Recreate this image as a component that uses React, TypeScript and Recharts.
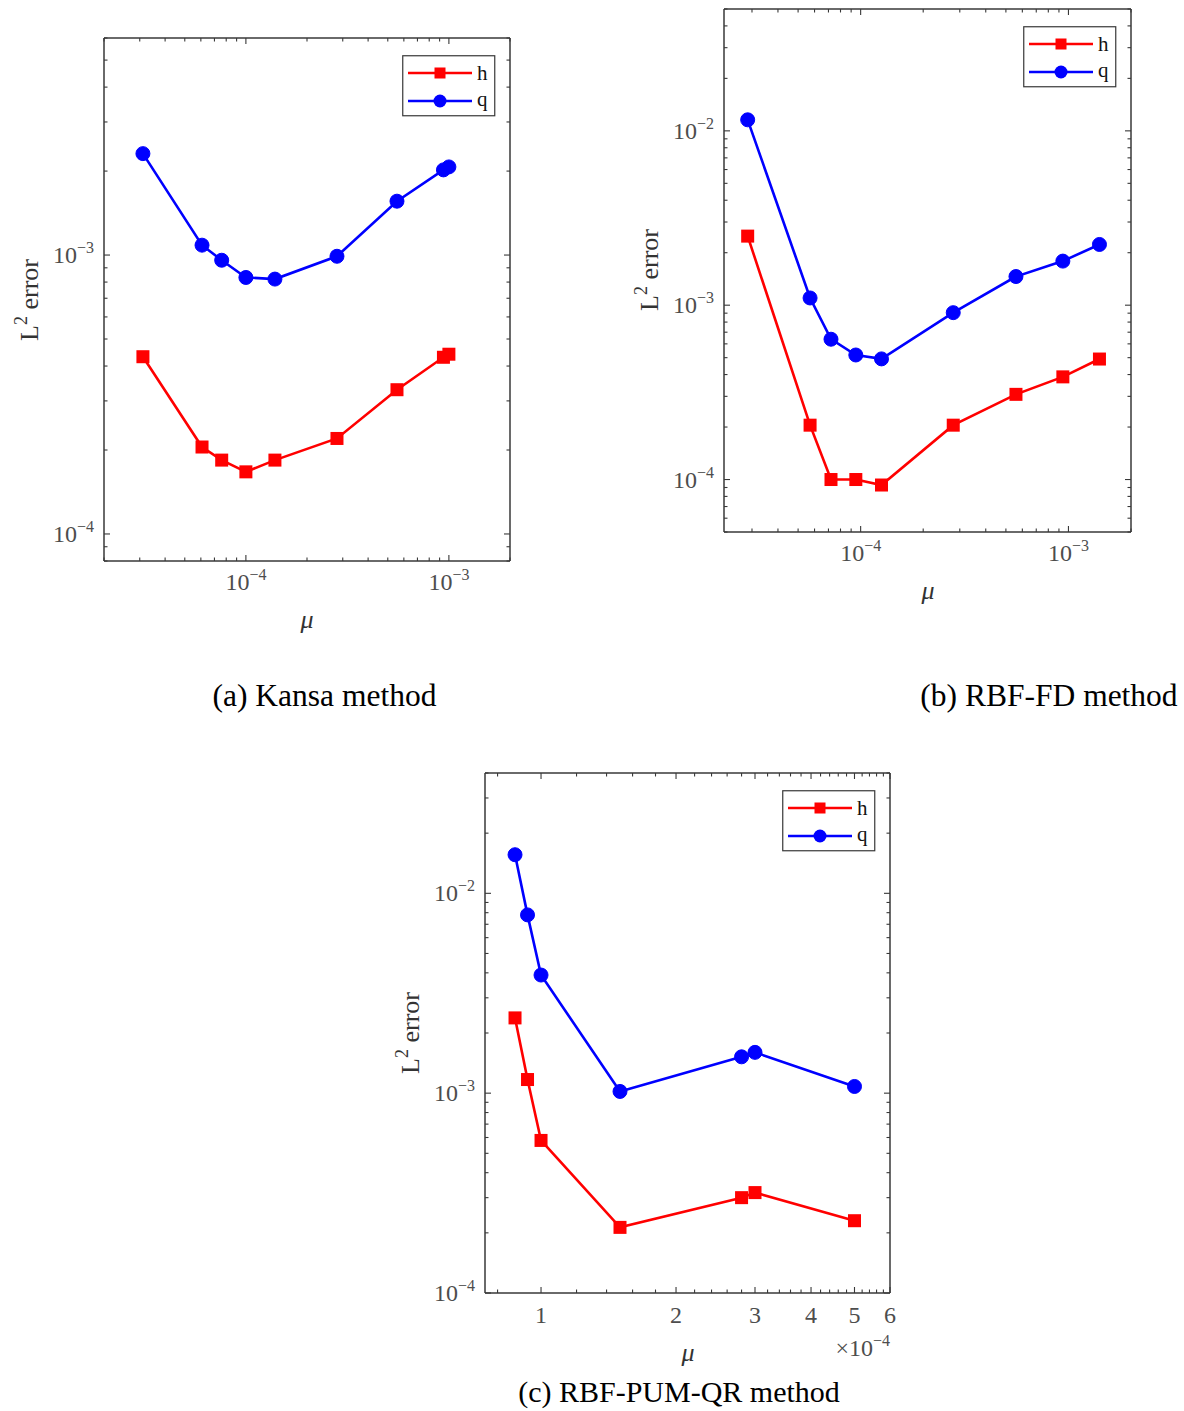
import React from 'react';
import { LineChart, Line, XAxis, YAxis, Legend } from 'recharts';

const AXIS = '#383838';
const TICK_TEXT = '#4d4d4d';
const RED = '#ff0000';
const BLUE = '#0000ff';
const SERIF = '"Liberation Serif", "Times New Roman", serif';

// (a) Kansa method
const kansaMu = [3.11e-5, 6.08e-5, 7.6e-5, 1.0e-4, 1.39e-4, 2.81e-4, 5.55e-4, 9.4e-4, 1.0e-3];
const kansaH = [4.32e-4, 2.05e-4, 1.84e-4, 1.67e-4, 1.84e-4, 2.2e-4, 3.29e-4, 4.3e-4, 4.41e-4];
const kansaQ = [2.31e-3, 1.085e-3, 9.58e-4, 8.31e-4, 8.2e-4, 9.9e-4, 1.56e-3, 2.02e-3, 2.07e-3];

// (b) RBF-FD method
const fdMu = [2.86e-5, 5.71e-5, 7.2e-5, 9.48e-5, 1.26e-4, 2.79e-4, 5.59e-4, 9.4e-4, 1.41e-3];
const fdH = [2.49e-3, 2.05e-4, 1.0e-4, 1.0e-4, 9.3e-5, 2.05e-4, 3.08e-4, 3.88e-4, 4.91e-4];
const fdQ = [1.157e-2, 1.1e-3, 6.38e-4, 5.18e-4, 4.92e-4, 9.06e-4, 1.46e-3, 1.79e-3, 2.23e-3];

// (c) RBF-PUM-QR method, mu in units of 1e-4
const pumMu = [0.875, 0.933, 1.0, 1.5, 2.8, 3.0, 5.0];
const pumH = [2.38e-3, 1.17e-3, 5.8e-4, 2.13e-4, 3.0e-4, 3.18e-4, 2.3e-4];
const pumQ = [1.56e-2, 7.8e-3, 3.9e-3, 1.02e-3, 1.52e-3, 1.6e-3, 1.08e-3];

const pumXLabels = [1, 2, 3, 4, 5, 6];

const captions = ['(a) Kansa method', '(b) RBF-FD method', '(c) RBF-PUM-QR method'];

type Row = { mu: number; h: number; q: number };
const toRows = (mu: number[], h: number[], q: number[]): Row[] =>
  mu.map((m, i) => ({ mu: m, h: h[i], q: q[i] }));

// 1..9 x 10^k ticks inside [lo, hi]
function logTicks(lo: number, hi: number) {
  const out: number[] = [];
  for (let e = Math.floor(Math.log10(lo)); e <= Math.ceil(Math.log10(hi)); e++) {
    for (let m = 1; m <= 9; m++) {
      const v = Number(`${m}e${e}`);
      if (v >= lo * 0.9999 && v <= hi * 1.0001) out.push(v);
    }
  }
  return out;
}

const isDecade = (v: number) => {
  const l = Math.log10(v);
  return Math.abs(l - Math.round(l)) < 1e-6;
};
const isInteger = (v: number) => pumXLabels.some(t => Math.abs(t - v) < 1e-6);

type Side = 'bottom' | 'top' | 'left' | 'right';
type LabelFn = (v: number, x: number, y: number) => React.ReactNode;

function makeTick(side: Side, isMajor: (v: number) => boolean, label?: LabelFn) {
  return (props: any) => {
    const { x, y, payload } = props;
    const v = Number(payload.value);
    const major = isMajor(v);
    const len = major ? 6 : 3.5;
    const dx = side === 'left' ? len : side === 'right' ? -len : 0;
    const dy = side === 'bottom' ? -len : side === 'top' ? len : 0;
    return (
      <g>
        <line x1={x} y1={y} x2={x + dx} y2={y + dy} stroke={AXIS} strokeWidth={1.1} />
        {major && label ? label(v, x, y) : null}
      </g>
    );
  };
}

const expOf = (v: number) => '\u2212' + Math.abs(Math.round(Math.log10(v)));

const powBottom: LabelFn = (v, x, y) => (
  <text x={x} y={y + 29} textAnchor="middle" fontFamily={SERIF} fontSize={24} fill={TICK_TEXT}>
    10<tspan dy={-10} fontSize={16}>{expOf(v)}</tspan>
  </text>
);

const powLeft: LabelFn = (v, x, y) => (
  <text x={x - 10} y={y + 8} textAnchor="end" fontFamily={SERIF} fontSize={24} fill={TICK_TEXT}>
    10<tspan dy={-10} fontSize={16}>{expOf(v)}</tspan>
  </text>
);

const intBottom: LabelFn = (v, x, y) => (
  <text x={x} y={y + 30} textAnchor="middle" fontFamily={SERIF} fontSize={24} fill={TICK_TEXT}>
    {Math.round(v)}
  </text>
);

const squareDot = (p: any) => (
  <rect key={`sq-${p.index}`} x={p.cx - 6.5} y={p.cy - 6.5} width={13} height={13} fill={RED} />
);

const LegendBox = () => (
  <svg width={94} height={62} style={{ display: 'block' }}>
    <rect x={0.75} y={0.75} width={92} height={60} fill="#fff" stroke={AXIS} strokeWidth={1.2} />
    <line x1={6} y1={18} x2={70} y2={18} stroke={RED} strokeWidth={2.5} />
    <rect x={32.5} y={12.5} width={11} height={11} fill={RED} />
    <text x={75} y={25} fontFamily={SERIF} fontSize={21} fill="#111">h</text>
    <line x1={6} y1={46} x2={70} y2={46} stroke={BLUE} strokeWidth={2.5} />
    <circle cx={38} cy={46} r={6.5} fill={BLUE} />
    <text x={75} y={51} fontFamily={SERIF} fontSize={21} fill="#111">q</text>
  </svg>
);

type Box = { top: number; right: number; bottom: number; left: number };

type PanelProps = {
  left: number;
  top: number;
  width: number;
  height: number;
  plot: Box; // distances from the panel edges to the plot box
  data: Row[];
  xDomain: [number, number];
  yDomain: [number, number];
  xTicks: number[];
  yTicks: number[];
  xMajor: (v: number) => boolean;
  xLabel: LabelFn;
};

// every axis is 1px thick, so the margins are one pixel less than the plot offsets
const AX = 1;

function Panel({ left, top, width, height, plot, data, xDomain, yDomain, xTicks, yTicks, xMajor, xLabel }: PanelProps) {
  const plotW = width - plot.left - plot.right;
  const margin = {
    top: plot.top - AX,
    right: plot.right - AX,
    bottom: plot.bottom - AX,
    left: plot.left - AX,
  };
  const axisLine = { stroke: AXIS, strokeWidth: 1.5 };
  return (
    <div style={{ position: 'absolute', left, top, width, height }}>
      <LineChart width={width} height={height} data={data} margin={margin}>
        <XAxis
          dataKey="mu"
          type="number"
          scale="log"
          domain={xDomain}
          allowDataOverflow
          ticks={xTicks}
          interval={0}
          height={AX}
          tickSize={0}
          tickMargin={0}
          axisLine={axisLine}
          tickLine={false}
          tick={makeTick('bottom', xMajor, xLabel)}
        />
        <XAxis
          xAxisId="top"
          orientation="top"
          dataKey="mu"
          type="number"
          scale="log"
          domain={xDomain}
          allowDataOverflow
          ticks={xTicks}
          interval={0}
          height={AX}
          tickSize={0}
          tickMargin={0}
          axisLine={axisLine}
          tickLine={false}
          tick={makeTick('top', xMajor)}
        />
        <YAxis
          type="number"
          scale="log"
          domain={yDomain}
          allowDataOverflow
          ticks={yTicks}
          interval={0}
          width={AX}
          tickSize={0}
          tickMargin={0}
          axisLine={axisLine}
          tickLine={false}
          tick={makeTick('left', isDecade, powLeft)}
        />
        <YAxis
          yAxisId="right"
          orientation="right"
          type="number"
          scale="log"
          domain={yDomain}
          allowDataOverflow
          ticks={yTicks}
          interval={0}
          width={AX}
          tickSize={0}
          tickMargin={0}
          axisLine={axisLine}
          tickLine={false}
          tick={makeTick('right', isDecade)}
        />
        <Legend
          layout="vertical"
          align="center"
          verticalAlign="middle"
          wrapperStyle={{ left: plot.left + plotW - 108, top: plot.top + 17, width: 94, height: 62 }}
          content={() => <LegendBox />}
        />
        <Line
          dataKey="h"
          name="h"
          stroke={RED}
          strokeWidth={2.6}
          dot={squareDot}
          activeDot={false}
          isAnimationActive={false}
        />
        <Line
          dataKey="q"
          name="q"
          stroke={BLUE}
          strokeWidth={2.6}
          dot={{ r: 7, fill: BLUE, stroke: BLUE, strokeWidth: 1 }}
          activeDot={false}
          isAnimationActive={false}
        />
      </LineChart>
    </div>
  );
}

const YTitle = ({ x, y }: { x: number; y: number }) => (
  <text x={x} y={y} textAnchor="middle" transform={`rotate(-90, ${x}, ${y})`} fontFamily={SERIF} fontSize={26} fill="#333">
    L<tspan dy={-11} fontSize={18}>2</tspan>
    <tspan dy={11}> error</tspan>
  </text>
);

const MuTitle = ({ x, y }: { x: number; y: number }) => (
  <text x={x} y={y} textAnchor="middle" fontFamily={SERIF} fontStyle="italic" fontSize={26} fill="#333">
    μ
  </text>
);

export default function App() {
  const pumXTicks = [0.8, 1, 1.2, 1.4, 1.6, 1.8, 2, 2.2, 2.4, 2.6, 2.8, 3, 3.2, 3.4, 3.6, 3.8, 4, 4.2, 4.4, 4.6, 4.8, 5, 5.2, 5.4, 5.6, 5.8, 6];
  return (
    <div style={{ position: 'absolute', left: 0, top: 0, width: 1184, height: 1411, background: '#fff' }}>
      <Panel
        left={0}
        top={0}
        width={560}
        height={660}
        plot={{ top: 38, right: 50, bottom: 99, left: 104 }}
        data={toRows(kansaMu, kansaH, kansaQ)}
        xDomain={[2e-5, 2e-3]}
        yDomain={[8e-5, 6e-3]}
        xTicks={logTicks(2e-5, 2e-3)}
        yTicks={logTicks(8e-5, 6e-3)}
        xMajor={isDecade}
        xLabel={powBottom}
      />
      <Panel
        left={600}
        top={0}
        width={584}
        height={660}
        plot={{ top: 9, right: 53, bottom: 128, left: 124 }}
        data={toRows(fdMu, fdH, fdQ)}
        xDomain={[2.2e-5, 2e-3]}
        yDomain={[5e-5, 5e-2]}
        xTicks={logTicks(2.2e-5, 2e-3)}
        yTicks={logTicks(5e-5, 5e-2)}
        xMajor={isDecade}
        xLabel={powBottom}
      />
      <Panel
        left={370}
        top={740}
        width={560}
        height={671}
        plot={{ top: 33, right: 40, bottom: 118, left: 115 }}
        data={toRows(pumMu, pumH, pumQ)}
        xDomain={[0.75, 6]}
        yDomain={[1e-4, 4e-2]}
        xTicks={pumXTicks}
        yTicks={logTicks(1e-4, 4e-2)}
        xMajor={isInteger}
        xLabel={intBottom}
      />
      <svg width={1184} height={1411} style={{ position: 'absolute', left: 0, top: 0, pointerEvents: 'none' }}>
        <YTitle x={38} y={300} />
        <YTitle x={658} y={270} />
        <YTitle x={419} y={1033} />
        <MuTitle x={307} y={628} />
        <MuTitle x={928} y={599} />
        <MuTitle x={688} y={1361} />
        <text x={890} y={1356} textAnchor="end" fontFamily={SERIF} fontSize={24} fill={TICK_TEXT}>
          ×10<tspan dy={-10} fontSize={16}>−4</tspan>
        </text>
        <text x={324.5} y={706} textAnchor="middle" fontFamily={SERIF} fontSize={31.5} fill="#000">{captions[0]}</text>
        <text x={1049} y={706} textAnchor="middle" fontFamily={SERIF} fontSize={31.5} fill="#000">{captions[1]}</text>
        <text x={679} y={1402} textAnchor="middle" fontFamily={SERIF} fontSize={30} fill="#000">{captions[2]}</text>
      </svg>
    </div>
  );
}
